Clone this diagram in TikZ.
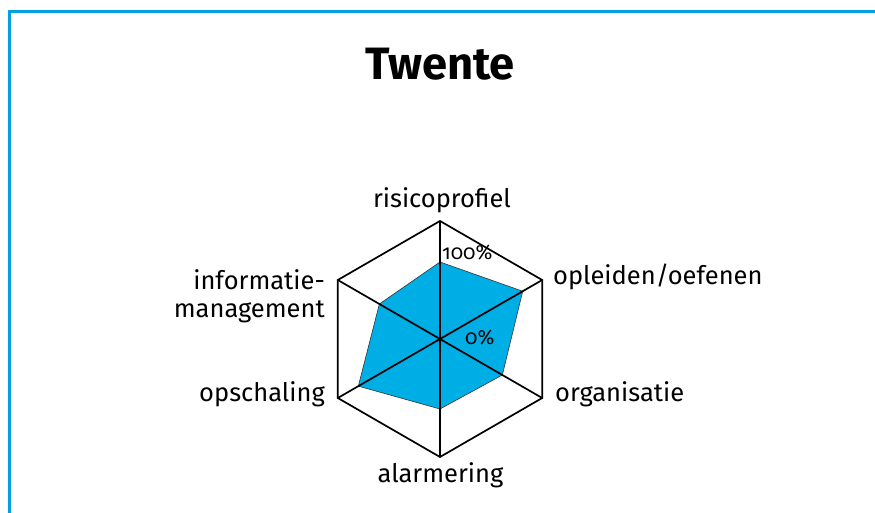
\documentclass[tikz,border=0pt]{standalone}
\usepackage{fontspec}
\setmainfont{Fira Sans}
\newfontfamily\pctfont[Numbers=OldStyle]{Fira Sans}
\definecolor{vulblauw}{RGB}{0,174,230}
\definecolor{randblauw}{RGB}{0,160,225}

\begin{document}
\begin{tikzpicture}[x=1bp,y=1bp,
  aslabel/.style={font=\fontsize{25.6}{28}\selectfont, inner sep=0pt},
  pctlabel/.style={font=\pctfont\fontsize{20.5}{22}\selectfont, inner sep=0pt},
  raster/.style={line width=1.7bp, line join=miter}]

\useasboundingbox (-440,-174) rectangle (435,339);

% kader
\draw [randblauw, line width=3bp] (435,327.5) -- (-430.5,327.5) -- (-430.5,-174);

\node [font=\bfseries\fontsize{45.5}{50}\selectfont, anchor=base, inner sep=0pt] (titel) at (0,259) {Twente};


\coordinate (c) at (0,0);
\foreach \n/\a in {1/90,2/30,3/-30,4/-90,5/-150,6/150}
  \coordinate (ax\n) at (\a:118);

% scores
\coordinate (s1) at (90:77);
\coordinate (s2) at (30:95.5);
\coordinate (s3) at (-30:72);
\coordinate (s4) at (-90:70);
\coordinate (s5) at (-150:94.3);
\coordinate (s6) at (150:70);

\fill [vulblauw] (s1) -- (s2) -- (s3) -- (s4) -- (s5) -- (s6) -- cycle;
\draw [line width=0.6bp, black!80] (s1) -- (s2) -- (s3) -- (s4) -- (s5) -- (s6) -- cycle;


\draw [raster] (ax1) -- (ax2) -- (ax3) -- (ax4) -- (ax5) -- (ax6) -- cycle;
\foreach \n in {1,...,6}
  \draw [raster] (c) -- (ax\n);


\node [aslabel, anchor=base] (risico) at (2,131) {risicoprofiel};
\node [aslabel, anchor=base west] (opleiden) at (113,54) {opleiden/oefenen};
\node [aslabel, anchor=base west] (organisatie) at (115,-63) {organisatie};
\node [aslabel, anchor=base] (alarmering) at (0.5,-144) {alarmering};
\node [aslabel, anchor=base east] (opschaling) at (-115,-63) {opschaling};
\node [aslabel, anchor=east, align=right] (informatie) at (-115,43) {informatie-\\management};

\node [pctlabel, anchor=base west] (honderd) at (2,79) {100\%};
\node [pctlabel, anchor=base west] (nul) at (25,-6) {0\%};

\end{tikzpicture}
\end{document}
